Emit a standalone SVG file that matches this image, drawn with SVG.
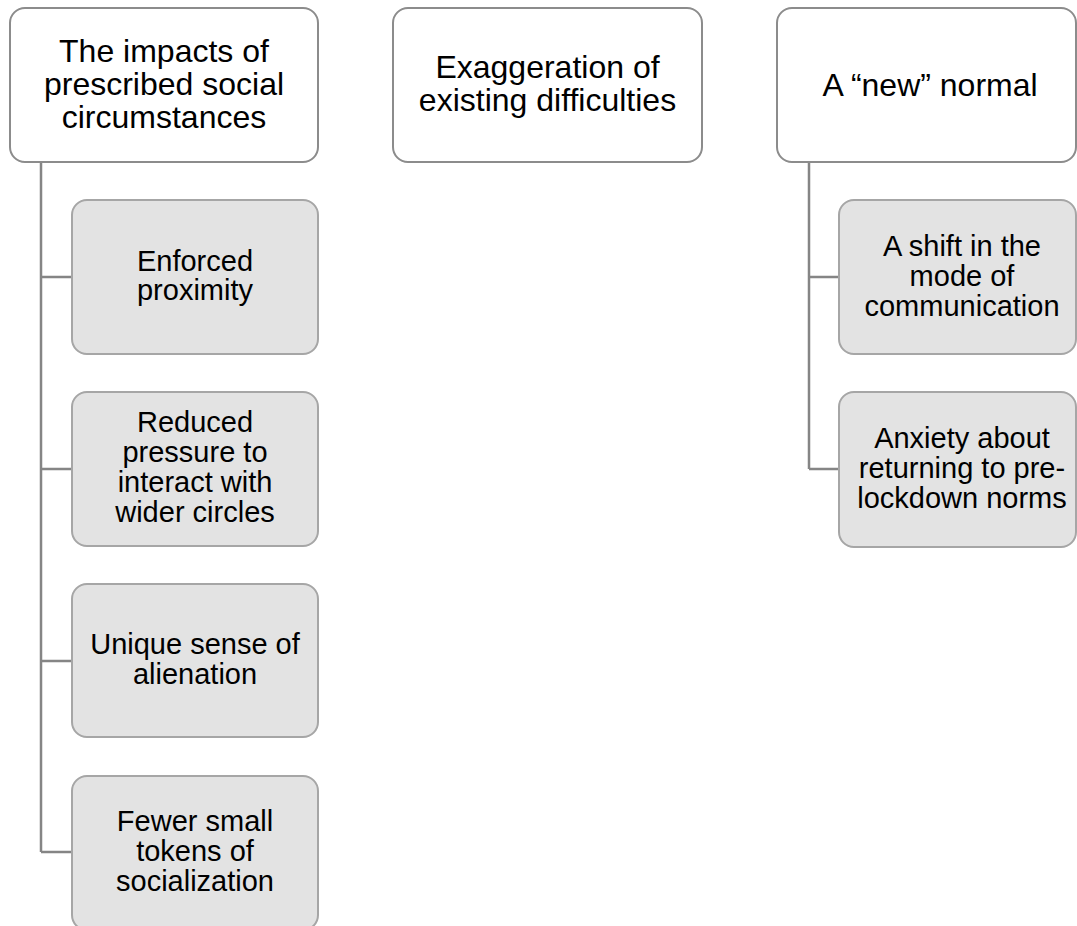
<svg xmlns="http://www.w3.org/2000/svg" width="1077" height="926" viewBox="0 0 1077 926">
  <style>
    .top { fill: #ffffff; stroke: #8c8c8c; stroke-width: 2; }
    .sub { fill: #e3e3e3; stroke: #a6a6a6; stroke-width: 2; }
    .link { fill: none; stroke: #858585; stroke-width: 2.5; }
    text { font-family: "Liberation Sans", Arial, sans-serif; fill: #000000; text-anchor: middle; }
    .t1 { font-size: 32px; }
    .t2 { font-size: 29px; }
  </style>
  <rect width="1077" height="926" fill="#ffffff"/>

  <!-- connectors -->
  <g id="connectors">
    <path class="link" d="M41 162 V852 M41 277 H72 M41 469 H72 M41 661 H72 M41 852 H72"/>
    <path class="link" d="M809 162 V469 M809 277 H839 M809 469 H839"/>
  </g>

  <!-- column 1 -->
  <g id="impacts">
    <rect class="top" x="10" y="8" width="308" height="154" rx="15"/>
    <text class="t1" x="164" y="62">The impacts of</text>
    <text class="t1" x="164" y="95">prescribed social</text>
    <text class="t1" x="164" y="128">circumstances</text>
  </g>
  <g id="proximity">
    <rect class="sub" x="72" y="200" width="246" height="154" rx="15"/>
    <text class="t2" x="195" y="271">Enforced</text>
    <text class="t2" x="195" y="300">proximity</text>
  </g>
  <g id="pressure">
    <rect class="sub" x="72" y="392" width="246" height="154" rx="15"/>
    <text class="t2" x="195" y="432">Reduced</text>
    <text class="t2" x="195" y="462">pressure to</text>
    <text class="t2" x="195" y="492">interact with</text>
    <text class="t2" x="195" y="522">wider circles</text>
  </g>
  <g id="alienation">
    <rect class="sub" x="72" y="584" width="246" height="153" rx="15"/>
    <text class="t2" x="195" y="654">Unique sense of</text>
    <text class="t2" x="195" y="684">alienation</text>
  </g>
  <g id="tokens">
    <rect class="sub" x="72" y="776" width="246" height="154" rx="15"/>
    <text class="t2" x="195" y="831">Fewer small</text>
    <text class="t2" x="195" y="861">tokens of</text>
    <text class="t2" x="195" y="891">socialization</text>
  </g>

  <!-- column 2 -->
  <g id="exaggeration">
    <rect class="top" x="393" y="8" width="309" height="154" rx="15"/>
    <text class="t1" x="547.5" y="78">Exaggeration of</text>
    <text class="t1" x="547.5" y="111">existing difficulties</text>
  </g>

  <!-- column 3 -->
  <g id="new-normal">
    <rect class="top" x="777" y="8" width="299" height="154" rx="15"/>
    <text class="t1" x="930" y="96">A “new” normal</text>
  </g>
  <g id="communication">
    <rect class="sub" x="839" y="200" width="237" height="154" rx="15"/>
    <text class="t2" x="962" y="256">A shift in the</text>
    <text class="t2" x="962" y="286">mode of</text>
    <text class="t2" x="962" y="316">communication</text>
  </g>
  <g id="anxiety">
    <rect class="sub" x="839" y="392" width="237" height="155" rx="15"/>
    <text class="t2" x="962" y="448">Anxiety about</text>
    <text class="t2" x="962" y="478">returning to pre-</text>
    <text class="t2" x="962" y="508">lockdown norms</text>
  </g>
</svg>
